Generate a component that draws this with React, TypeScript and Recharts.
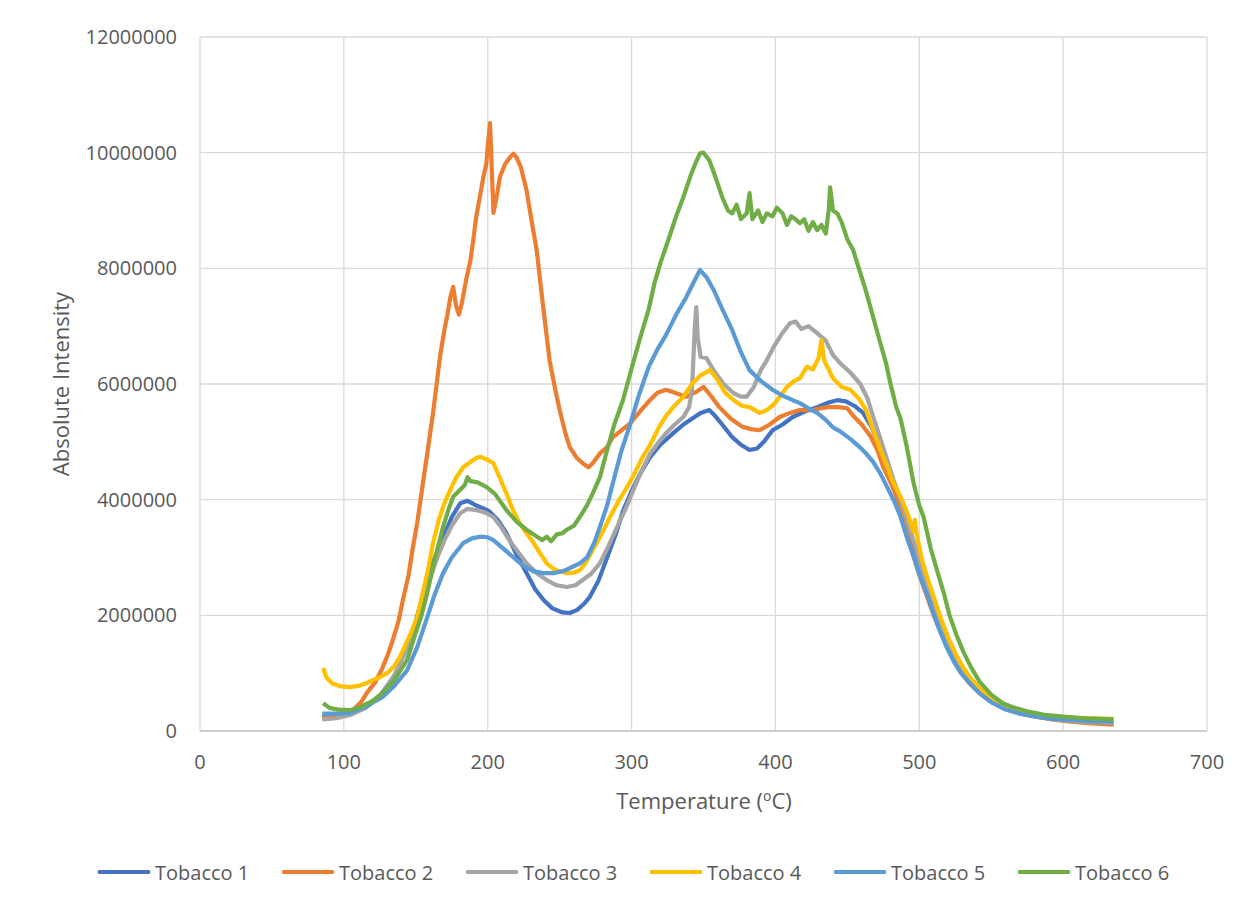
import React from "react";
import { LineChart, Line, XAxis, YAxis, CartesianGrid } from "recharts";

// Values in millions of counts, read as [temperature °C, intensity (M)]
const tobacco1: number[][] = [
  [85,0.25],[95,0.26],[105,0.3],[115,0.4],[125,0.6],[135,0.95],[145,1.5],[150,1.9],[155,2.35],[160,2.8],[165,3.1],[170,3.4],[175,3.7],[181,3.94],[186,3.98],[192,3.9],[197,3.85],[201,3.8],[207,3.65],[213,3.42],[220,3.05],[227,2.73],[233,2.45],[239,2.26],[245,2.12],[252,2.05],[257,2.04],[262,2.09],[267,2.2],[271,2.32],[277,2.6],[283,3.0],[289,3.4],[294,3.8],[300,4.15],[306,4.45],[313,4.74],[320,4.95],[329,5.15],[336,5.3],[342,5.4],[348,5.5],[354,5.55],[358,5.45],[363,5.3],[370,5.08],[376,4.95],[382,4.86],[387,4.88],[392,5.0],[398,5.2],[405,5.3],[412,5.43],[420,5.52],[429,5.6],[437,5.68],[443,5.72],[449,5.7],[455,5.62],[461,5.5],[467,5.25],[473,4.85],[479,4.45],[485,4.0],[490,3.6],[495,3.2],[500,2.8],[505,2.4],[510,2.05],[515,1.72],[520,1.45],[525,1.2],[530,1.0],[535,0.85],[542,0.68],[550,0.53],[560,0.4],[570,0.31],[580,0.26],[592,0.21],[605,0.18],[620,0.15],[635,0.13]
];
const tobacco2: number[][] = [
  [85,0.22],[95,0.25],[105,0.33],[112,0.5],[116,0.66],[122,0.85],[127,1.1],[131,1.35],[134,1.57],[138,1.9],[141,2.26],[145,2.7],[148,3.18],[151,3.6],[155,4.29],[158,4.8],[162,5.5],[165,6.1],[167,6.5],[170,6.95],[172,7.2],[174,7.5],[176,7.68],[178,7.35],[180,7.2],[182,7.4],[185,7.8],[188,8.14],[190,8.5],[192,8.89],[195,9.3],[197,9.58],[199,9.8],[200,10.1],[201.6,10.51],[203,9.6],[204,8.96],[206,9.2],[208.5,9.58],[212,9.8],[215.5,9.92],[218,9.98],[220,9.92],[223,9.75],[227,9.35],[230,8.9],[234,8.32],[238,7.45],[243,6.41],[247,5.9],[250,5.55],[254,5.15],[257,4.91],[262,4.72],[266,4.63],[270,4.56],[273,4.63],[278,4.8],[283,4.91],[287,5.08],[293,5.2],[299,5.32],[305,5.5],[312,5.7],[318,5.85],[324,5.9],[330,5.85],[338,5.78],[344,5.85],[350,5.95],[355,5.8],[361,5.6],[369,5.4],[377,5.26],[383,5.22],[389,5.2],[396,5.3],[403,5.43],[410,5.5],[417,5.55],[426,5.55],[436,5.6],[444,5.6],[450,5.58],[454,5.45],[460,5.3],[466,5.1],[471,4.85],[475,4.56],[480,4.3],[485,4.0],[490,3.55],[495,3.1],[500,2.7],[505,2.35],[510,2.0],[515,1.7],[520,1.42],[525,1.18],[530,0.98],[535,0.82],[542,0.65],[550,0.5],[560,0.38],[570,0.3],[580,0.25],[592,0.2],[605,0.16],[620,0.13],[635,0.11]
];
const tobacco3: number[][] = [
  [85,0.2],[95,0.22],[105,0.28],[115,0.4],[125,0.6],[135,0.95],[145,1.5],[150,1.85],[155,2.25],[160,2.65],[165,3.0],[170,3.3],[175,3.55],[181,3.77],[186,3.84],[192,3.82],[198,3.78],[204,3.7],[210,3.5],[215,3.3],[221,3.1],[227,2.9],[234,2.73],[241,2.61],[248,2.52],[255,2.49],[261,2.52],[266,2.61],[272,2.72],[278,2.9],[284,3.2],[290,3.53],[296,3.85],[301,4.15],[307,4.5],[313,4.8],[319,5.0],[324,5.15],[330,5.3],[336,5.43],[340,5.6],[342,5.9],[344,7.0],[345,7.33],[346,6.8],[348,6.47],[352,6.45],[357,6.24],[364,6.0],[371,5.84],[376,5.78],[380,5.78],[385,5.95],[390,6.25],[394,6.41],[399,6.65],[404,6.85],[410,7.05],[414,7.08],[418,6.95],[423,7.0],[429,6.88],[435,6.75],[440,6.5],[445,6.36],[452,6.2],[459,6.0],[464,5.75],[468,5.43],[473,5.05],[477,4.74],[482,4.35],[487,4.0],[492,3.6],[498,3.13],[503,2.7],[507,2.32],[512,1.98],[517,1.68],[522,1.4],[527,1.16],[532,0.96],[537,0.8],[544,0.64],[552,0.5],[562,0.38],[572,0.3],[582,0.25],[594,0.2],[607,0.17],[620,0.15],[635,0.14]
];
const tobacco4: number[][] = [
  [85.6,1.09],[88,0.92],[92,0.82],[98,0.77],[104,0.76],[110,0.78],[115,0.82],[120,0.88],[125,0.93],[130,1.0],[135,1.12],[139,1.28],[143,1.5],[147,1.72],[151,1.97],[155,2.4],[159,2.85],[162,3.25],[166,3.65],[170,3.95],[174,4.17],[178,4.38],[183,4.56],[188,4.65],[192,4.72],[195,4.74],[199,4.7],[204,4.63],[208,4.4],[213,4.11],[217,3.85],[222,3.6],[227,3.42],[232,3.25],[237,3.05],[241,2.9],[246,2.8],[250,2.76],[255,2.73],[260,2.74],[264,2.78],[268,2.9],[273,3.13],[279,3.4],[285,3.7],[291,3.98],[297,4.22],[303,4.5],[308,4.75],[313,4.95],[319,5.25],[324,5.45],[329,5.6],[336,5.78],[342,6.0],[348,6.15],[354.5,6.24],[359,6.1],[365,5.85],[371,5.72],[377,5.62],[382,5.6],[389,5.5],[394,5.55],[399,5.65],[403,5.78],[408,5.95],[413,6.05],[417,6.1],[422,6.3],[426,6.25],[430,6.45],[432,6.76],[434,6.4],[437,6.25],[440,6.1],[446,5.95],[452,5.9],[458,5.75],[463,5.55],[468,5.2],[473,4.86],[478,4.55],[482,4.29],[487,4.05],[491,3.82],[494,3.6],[496,3.45],[497,3.65],[498,3.42],[502,2.95],[506,2.62],[510,2.32],[515,1.95],[520,1.62],[525,1.35],[530,1.12],[535,0.93],[542,0.74],[550,0.57],[560,0.43],[570,0.34],[580,0.29],[592,0.25],[605,0.23],[620,0.22],[635,0.21]
];
const tobacco5: number[][] = [
  [85,0.3],[95,0.3],[104,0.31],[115,0.42],[127,0.59],[135,0.78],[144,1.05],[151,1.45],[158,1.97],[163,2.35],[169,2.73],[175,3.0],[183,3.25],[189,3.33],[195,3.36],[200,3.35],[204,3.3],[211,3.15],[218,3.0],[225,2.85],[232,2.76],[239,2.73],[246,2.73],[253,2.77],[259,2.84],[264,2.9],[269,3.0],[274,3.25],[278,3.53],[283,3.9],[287,4.29],[293,4.85],[299,5.3],[305,5.8],[312,6.3],[318,6.6],[324,6.85],[331,7.2],[338,7.5],[343,7.75],[347.6,7.97],[352,7.85],[357,7.63],[363,7.3],[370,6.93],[376,6.55],[382,6.24],[390,6.05],[398,5.9],[405,5.8],[412,5.72],[417,5.67],[423,5.58],[429,5.5],[435,5.38],[440,5.25],[445,5.18],[452,5.05],[459,4.9],[463,4.8],[468,4.65],[473,4.45],[478,4.2],[483,3.95],[487,3.7],[492,3.3],[497,2.95],[501,2.65],[505,2.39],[509,2.1],[514,1.75],[519,1.45],[524,1.2],[529,1.0],[535,0.83],[542,0.65],[550,0.5],[560,0.37],[570,0.3],[580,0.25],[592,0.21],[605,0.19],[620,0.17],[635,0.16]
];
const tobacco6: number[][] = [
  [85.6,0.48],[90,0.4],[96,0.37],[104,0.36],[112,0.42],[120,0.52],[127,0.66],[135,0.88],[144,1.23],[150,1.7],[154,2.0],[158,2.39],[163,2.95],[169,3.53],[173,3.85],[176,4.05],[180,4.15],[184,4.25],[186,4.39],[188,4.32],[193,4.3],[199,4.22],[205,4.1],[213,3.82],[220,3.62],[227,3.48],[233,3.38],[238,3.3],[241,3.36],[244,3.28],[248,3.4],[252,3.42],[255,3.48],[260,3.55],[264,3.7],[269,3.9],[273,4.11],[278,4.39],[283,4.86],[288,5.3],[294,5.72],[301,6.36],[306,6.8],[312,7.3],[316,7.75],[320,8.09],[325,8.45],[331,8.9],[336,9.23],[341,9.6],[345,9.85],[347.6,9.99],[350,10.0],[354,9.87],[358,9.6],[363,9.23],[367,9.0],[370,8.95],[373,9.1],[376,8.85],[380,8.95],[382,9.3],[384,8.85],[388,9.0],[391,8.8],[394,8.95],[398,8.9],[401,9.05],[405,8.95],[408,8.75],[411,8.9],[414,8.85],[417,8.78],[420,8.85],[423,8.65],[426,8.8],[429,8.66],[432,8.75],[435,8.6],[437,9.0],[438,9.4],[440,9.0],[443,8.95],[446,8.8],[450,8.5],[454,8.32],[458,8.0],[463,7.6],[468,7.15],[473,6.7],[477,6.35],[480,6.0],[484,5.6],[487,5.4],[491,4.95],[496,4.29],[500,3.9],[503,3.7],[508,3.15],[513,2.72],[517,2.39],[521,2.0],[526,1.65],[531,1.35],[536,1.1],[542,0.85],[550,0.63],[558,0.48],[565,0.41],[575,0.34],[587,0.28],[600,0.25],[615,0.22],[635,0.2]
];

const seriesNames = ["Tobacco 1", "Tobacco 2", "Tobacco 3", "Tobacco 4", "Tobacco 5", "Tobacco 6"];
const seriesColors = ["#4472C4", "#ED7D31", "#A5A5A5", "#FFC000", "#5B9BD5", "#70AD47"];
const seriesValues = [tobacco1, tobacco2, tobacco3, tobacco4, tobacco5, tobacco6];

const xTicks = [0, 100, 200, 300, 400, 500, 600, 700];
const yTicks = [0, 2000000, 4000000, 6000000, 8000000, 10000000, 12000000];

const xTitle = "Temperature (";
const yTitle = "Absolute Intensity";

const FONT = "'Open Sans', 'DejaVu Sans', sans-serif";
const TEXT = "#595959";

const toData = (arr: number[][]) => arr.map(([t, m]) => ({ t, v: Math.round(m * 1e6) }));

export default function App() {
  return (
    <div
      style={{
        position: "relative",
        width: 1242,
        height: 899,
        marginLeft: -1,
        marginTop: -1,
        borderLeft: "1px solid #D9D9D9",
        borderTop: "1px solid #D9D9D9",
        background: "#fff",
        fontFamily: FONT,
      }}
    >
      <LineChart width={1242} height={899} margin={{ top: 29, right: 43, bottom: 0, left: 0 }}>
        <CartesianGrid stroke="#D9D9D9" strokeWidth={1.3} vertical={true} horizontal={true} />
        <XAxis
          dataKey="t"
          type="number"
          domain={[0, 700]}
          ticks={xTicks}
          interval={0}
          allowDataOverflow
          height={176}
          tickSize={0}
          tickMargin={24}
          axisLine={{ stroke: "#C8C8C8", strokeWidth: 1.3 }}
          tickLine={false}
          tick={{ fill: TEXT, fontSize: 20, fontFamily: FONT }}
        />
        <YAxis
          type="number"
          domain={[0, 12000000]}
          ticks={yTicks}
          interval={0}
          width={192}
          tickSize={0}
          tickMargin={23}
          axisLine={false}
          tickLine={false}
          tickFormatter={(v: number) => String(v)}
          tick={{ fill: TEXT, fontSize: 20, fontFamily: FONT }}
        />
        {seriesValues.map((arr, i) => (
          <Line
            key={seriesNames[i]}
            data={toData(arr)}
            dataKey="v"
            name={seriesNames[i]}
            type="linear"
            stroke={seriesColors[i]}
            strokeWidth={4.2}
            strokeLinejoin="round"
            dot={false}
            activeDot={false}
            isAnimationActive={false}
          />
        ))}
      </LineChart>

      <div
        style={{
          position: "absolute",
          left: 52,
          top: 376,
          transform: "translate(-50%, -50%) rotate(-90deg)",
          whiteSpace: "nowrap",
          fontSize: 22,
          color: TEXT,
          lineHeight: "26px",
        }}
      >
        {yTitle}
      </div>

      <div
        style={{
          position: "absolute",
          left: 696,
          top: 794,
          transform: "translate(-50%, -50%)",
          whiteSpace: "nowrap",
          fontSize: 22,
          color: TEXT,
          lineHeight: "26px",
        }}
      >
        {xTitle}
        <span style={{ fontSize: 14, position: "relative", top: -8 }}>o</span>C)
      </div>

      {seriesNames.map((name, i) => (
        <div
          key={name}
          style={{
            position: "absolute",
            left: 90 + i * 184,
            top: 850,
            height: 28,
            display: "flex",
            alignItems: "center",
            whiteSpace: "nowrap",
            fontSize: 20,
            color: TEXT,
          }}
        >
          <span
            style={{
              display: "inline-block",
              width: 52,
              height: 4,
              background: seriesColors[i],
              marginRight: 5,
              borderRadius: 1,
            }}
          />
          {name}
        </div>
      ))}
    </div>
  );
}
